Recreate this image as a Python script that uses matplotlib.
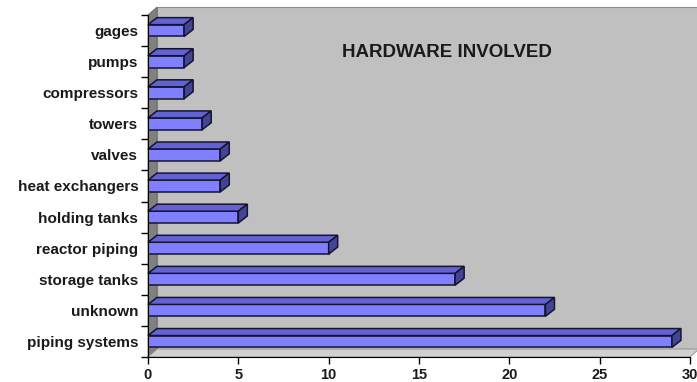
import matplotlib
matplotlib.use("Agg")
import matplotlib.pyplot as plt
from matplotlib.patches import Polygon
import numpy as np

categories = ["piping systems", "unknown", "storage tanks", "reactor piping",
              "holding tanks", "heat exchangers", "valves", "towers",
              "compressors", "pumps", "gages"]
values = [29, 22, 17, 10, 5, 4, 4, 3, 2, 2, 2]
xticks = [0, 5, 10, 15, 20, 25, 30]
title = "HARDWARE INVOLVED"

plt.rcParams['font.family'] = ['Liberation Sans', 'DejaVu Sans']

W, H = 697, 382
fig = plt.figure(figsize=(W / 100, H / 100), dpi=100)
fig.patch.set_facecolor("white")
ax = fig.add_axes([148 / W, (H - 357) / H, (690 - 148) / W, (357 - 15) / H])
ax.set_xlim(0, 30)
ax.set_ylim(-0.5, len(categories) - 0.5)
ax.patch.set_alpha(0)

fig.canvas.draw()
s = fig.dpi / 100.0
wall_dx, wall_dy = 9 * s, 8 * s
bar_dx, bar_dy = 9 * s, 7 * s

def to_data(pts_disp):
    return ax.transData.inverted().transform(np.asarray(pts_disp))

x0, x1 = ax.get_xlim()
y0, y1 = ax.get_ylim()
base = ax.transData.transform([[x0, y0], [x1, y0], [x1, y1], [x0, y1]])
o = np.array([wall_dx, wall_dy])

# back wall
wall = to_data(base + o)
ax.add_patch(Polygon(wall, closed=True, facecolor="#c0c0c0", edgecolor="#8c8c8c",
                     lw=0.8, clip_on=False, zorder=0.5))
# left wall
lw_pts = to_data([base[0], base[3], base[3] + o, base[0] + o])
ax.add_patch(Polygon(lw_pts, closed=True, facecolor="#808080", edgecolor="#6a6a6a",
                     lw=0.6, clip_on=False, zorder=0.6))
# floor
fl_pts = to_data([base[0], base[1], base[1] + o, base[0] + o])
ax.add_patch(Polygon(fl_pts, closed=True, facecolor="#d0d0d0", edgecolor="#8c8c8c",
                     lw=0.6, clip_on=False, zorder=0.6))

h = 0.38
ypos = np.arange(len(categories))
ax.barh(ypos, values, height=h, color="#8080ff", edgecolor="#141430", lw=1.1,
        zorder=3)
for y, v in zip(ypos, values):
    tb = ax.transData.transform([[0, y + h / 2], [v, y + h / 2]])
    top = to_data([tb[0], tb[1], tb[1] + [bar_dx, bar_dy], tb[0] + [bar_dx, bar_dy]])
    ax.add_patch(Polygon(top, closed=True, facecolor="#6262d2", edgecolor="#141430",
                         lw=1.1, clip_on=False, zorder=3.1))
    sb = ax.transData.transform([[v, y - h / 2], [v, y + h / 2]])
    side = to_data([sb[0], sb[1], sb[1] + [bar_dx, bar_dy], sb[0] + [bar_dx, bar_dy]])
    ax.add_patch(Polygon(side, closed=True, facecolor="#444496", edgecolor="#141430",
                         lw=1.1, clip_on=False, zorder=3.1))

for sp in ["top", "right"]:
    ax.spines[sp].set_visible(False)
ax.spines["left"].set_color("black")
ax.spines["bottom"].set_color("black")
ax.spines["left"].set_zorder(4)
ax.spines["bottom"].set_zorder(4)

ax.set_yticks(ypos)
ax.set_yticklabels(categories, fontsize=11, fontweight="bold", color="#1a1a1a")
ax.tick_params(axis="y", length=0, pad=7)
ax.set_yticks(np.arange(-0.5, len(categories), 1.0), minor=True)
ax.tick_params(axis="y", which="minor", length=5, width=1, color="black")

ax.set_xticks(xticks)
ax.set_xticklabels([str(t) for t in xticks], fontsize=10.5, fontweight="bold",
                   color="#1a1a1a")
ax.tick_params(axis="x", length=5, width=1, color="black", pad=3)

ax.text(0.552, 0.889, title, transform=ax.transAxes, ha="center", va="center",
        fontsize=13.5, fontweight="bold", color="#1a1a1a", zorder=5)

fig.savefig("out.png", dpi=100)
